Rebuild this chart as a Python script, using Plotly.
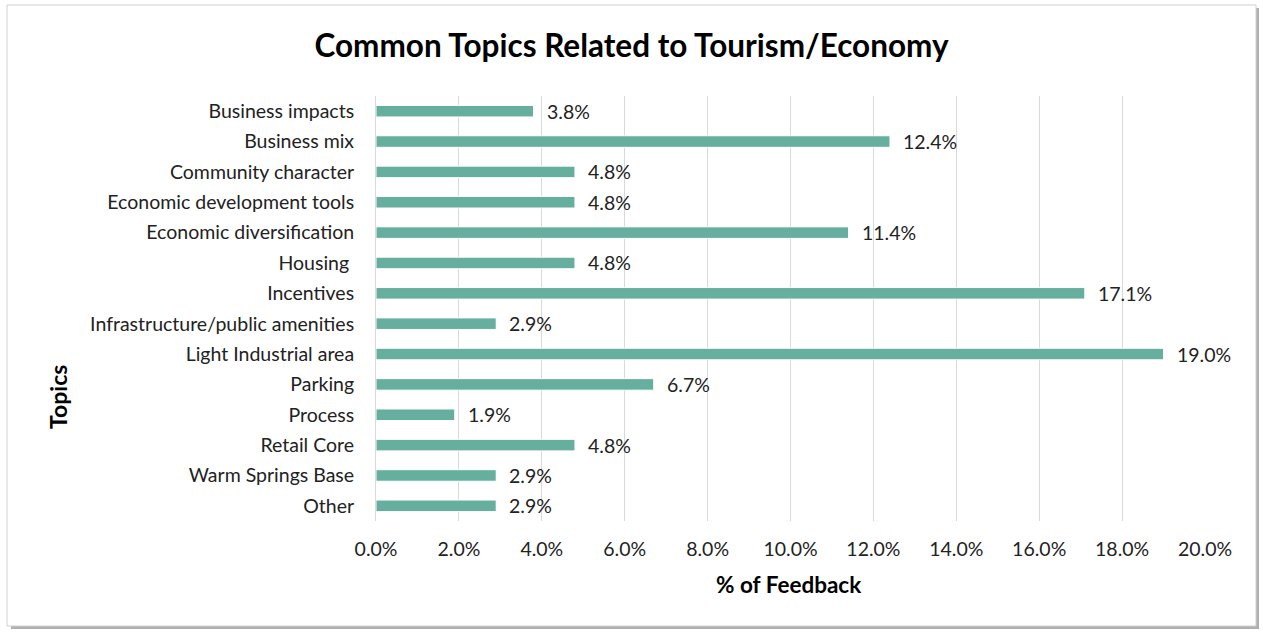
import plotly.graph_objects as go

categories = ["Business impacts", "Business mix", "Community character", "Economic development tools",
              "Economic diversification", "Housing ", "Incentives", "Infrastructure/public amenities",
              "Light Industrial area", "Parking", "Process", "Retail Core", "Warm Springs Base", "Other"]
values = [3.8, 12.4, 4.8, 4.8, 11.4, 4.8, 17.1, 2.9, 19.0, 6.7, 1.9, 4.8, 2.9, 2.9]
tick_vals = [0, 2, 4, 6, 8, 10, 12, 14, 16, 18, 20]
tick_text = [f"{v:.1f}%" for v in tick_vals]

FONT = "Lato"
W, H = 1263, 633
L, R, T, B = 376, 58, 96, 112
pw, ph = W - L - R, H - T - B
def px(x): return (x - L) / pw
def py(y): return 1 - (y - T) / ph

fig = go.Figure()
fig.add_trace(go.Bar(
    x=values, y=categories, orientation="h",
    marker=dict(color="#66ae9e", line=dict(color="white", width=1)),
    width=0.38, hoverinfo="skip",
))
for c, v in zip(categories, values):
    fig.add_annotation(x=v, y=c, text=f"{v:.1f}%", showarrow=False, xanchor="left",
                       xshift=11, font=dict(family=FONT, size=19.5, color="#222"))

fig.add_annotation(xref="paper", yref="paper", x=px(58), y=py(397), text="<b>Topics</b>",
                   textangle=-90, showarrow=False, xanchor="center", yanchor="middle",
                   font=dict(family=FONT, size=23, color="black"))
fig.add_annotation(xref="paper", yref="paper", x=px(789), y=py(584), text="<b>% of Feedback</b>",
                   showarrow=False, xanchor="center", yanchor="middle",
                   font=dict(family=FONT, size=22.5, color="black"))

fig.update_layout(
    width=W, height=H,
    margin=dict(l=L, r=R, t=T, b=B),
    paper_bgcolor="white", plot_bgcolor="white",
    showlegend=False,
    title=dict(text="<b>Common Topics Related to Tourism/Economy</b>", x=0.5, xanchor="center",
               y=1 - 46 / H, yanchor="middle", font=dict(family=FONT, size=31.5, color="black")),
    xaxis=dict(range=[0, 20], tickvals=tick_vals, ticktext=tick_text, showgrid=True,
               gridcolor="#d9d9d9", gridwidth=1, zeroline=False, showline=False,
               tickfont=dict(family=FONT, size=19.5, color="#222"), ticklabelstandoff=14),
    yaxis=dict(autorange="reversed", showgrid=False, zeroline=False, showline=True,
               linecolor="#d9d9d9", linewidth=1,
               tickfont=dict(family=FONT, size=19.5, color="#222"), ticklabelstandoff=17),
    bargap=0.6,
)
# frame with shadow
fig.add_shape(type="rect", xref="paper", yref="paper", x0=px(11), x1=px(1259), y0=py(629), y1=py(8),
              line=dict(width=0), fillcolor="#b0b0b0", layer="below")
fig.add_shape(type="rect", xref="paper", yref="paper", x0=px(7), x1=px(1256), y0=py(626), y1=py(5),
              line=dict(color="#d0d0d0", width=1), fillcolor="white", layer="below")
fig.write_html("out.html")
